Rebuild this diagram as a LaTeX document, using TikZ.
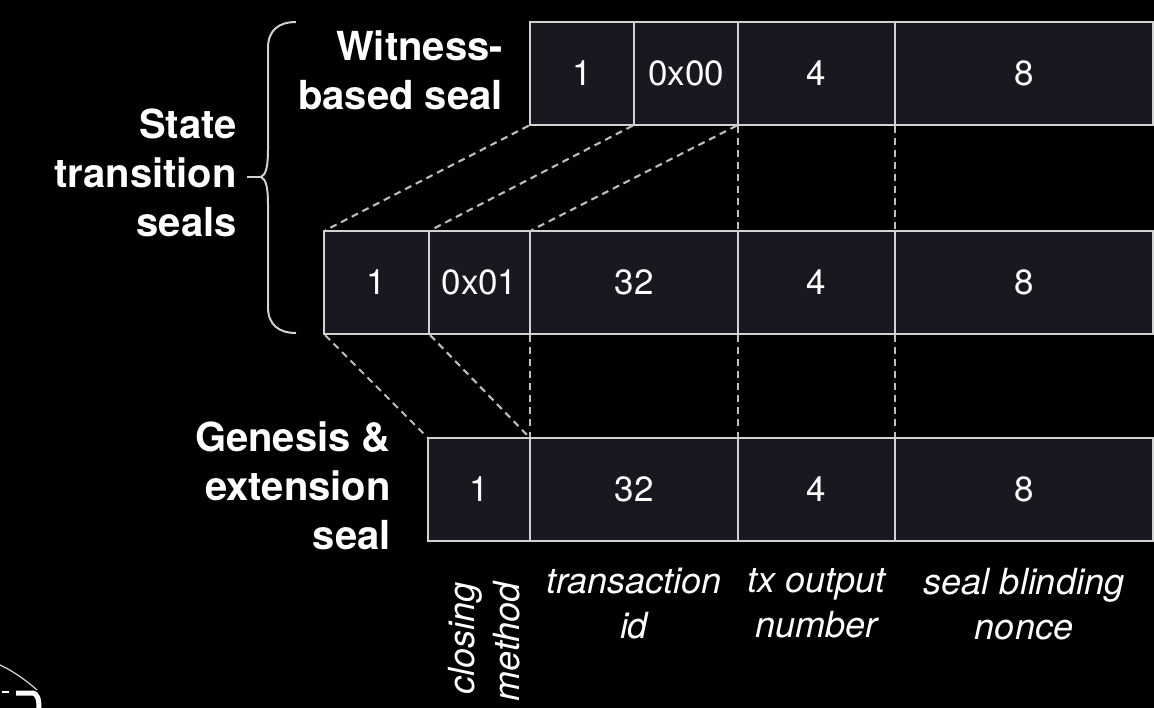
\documentclass[tikz,border=0pt]{standalone}
\usepackage{fontspec}
\setmainfont{TeX Gyre Heros}
\usepackage{tikz}
\usetikzlibrary{positioning}

\definecolor{cellfill}{RGB}{25,23,32}
\definecolor{cellline}{RGB}{210,210,210}
\definecolor{guideline}{RGB}{190,190,190}

\begin{document}
\begin{tikzpicture}[
    x=1pt, y=-1pt,
    cell/.style={rectangle, draw=cellline, fill=cellfill, line width=2.6pt, minimum height=103pt, inner sep=0pt, outer sep=0pt, text=white, font=\fontsize{35}{40}\selectfont},
    title/.style={align=right, anchor=east, inner sep=0pt, text=white, font=\fontsize{40}{49}\selectfont\bfseries},
    field/.style={align=center, anchor=north, inner sep=0pt, text=white, font=\fontsize{36}{45}\selectfont\itshape},
    guide/.style={draw=guideline, line width=2.1pt, dash pattern=on 7pt off 5pt, shorten <=1.5pt, shorten >=1.5pt},
    brace/.style={draw=cellline, line width=2pt}
]
\path[use as bounding box, fill=black] (0,0) rectangle (1154,708);

% Witness-based seal
\node[cell, minimum width=104pt, anchor=north west] (w1) at (530,22) {1};
\node[cell, minimum width=104pt, right=0pt of w1] (w2) {0x00};
\node[cell, minimum width=157pt, right=0pt of w2] (w3) {4};
\node[cell, minimum width=258pt, right=0pt of w3] (w4) {8};

% seal with transaction id
\node[cell, minimum width=105pt, anchor=north west] (s1) at (324,231) {1};
\node[cell, minimum width=101pt, right=0pt of s1] (s2) {0x01};
\node[cell, minimum width=208pt, right=0pt of s2] (s3) {32};
\node[cell, minimum width=157pt, right=0pt of s3] (s4) {4};
\node[cell, minimum width=258pt, right=0pt of s4] (s5) {8};

% Genesis & extension seal
\node[cell, minimum width=102pt, anchor=north west] (g1) at (428,438) {1};
\node[cell, minimum width=208pt, right=0pt of g1] (g2) {32};
\node[cell, minimum width=157pt, right=0pt of g2] (g3) {4};
\node[cell, minimum width=258pt, right=0pt of g3] (g4) {8};

% Titles
\node[title] (witness) at (503,70) {Witness-\\based seal};
\node[title] (state) at (237,173) {State\\transition\\seals};
\node[title] (genesis) at (391,486) {Genesis \&\\extension\\seal};

% Field names
\node[field, rotate=90, anchor=east, align=right] (method) at (484,582) {closing\\method};
\node[field, below=27pt of g2] (txid) {transaction\\id};
\node[field, below=27pt of g3] (vout) {tx output\\number};
\node[field, below=27pt of g4] (nonce) {seal blinding\\nonce};

% Brace
\coordinate (tip) at (261,177);
\draw[brace] (296,22) .. controls (279,22) and (268,30) .. (268,48) -- (268,150)
    .. controls (268,166) and (266,175) .. (tip)
    .. controls (266,179) and (268,188) .. (268,204) -- (268,307)
    .. controls (268,325) and (279,333) .. (296,333);
\draw[brace] (tip) -- (247,177);

% Guides
\draw[guide] (w1.south west) -- (s1.north west);
\draw[guide] (w2.south west) -- (s2.north west);
\draw[guide] (w3.south west) -- (s3.north west);
\draw[guide] (w3.south west) -- (s4.north west);
\draw[guide] (w4.south west) -- (s5.north west);
\draw[guide] (s1.south west) -- (g1.north west);
\draw[guide] (s2.south west) -- (g2.north west);
\draw[guide] (s3.south west) -- (g2.north west);
\draw[guide] (s4.south west) -- (g3.north west);
\draw[guide] (s5.south west) -- (g4.north west);

% corner mark
\draw[white!85!black, line width=1.2pt] (0,665) .. controls (15,672) and (28,682) .. (37,690);
\draw[white, line width=5pt] (16,693) -- (33,693) .. controls (37,694) and (39,698) .. (39,708);
\draw[white, line width=2pt] (2,692) -- (9,692);

\end{tikzpicture}
\end{document}
